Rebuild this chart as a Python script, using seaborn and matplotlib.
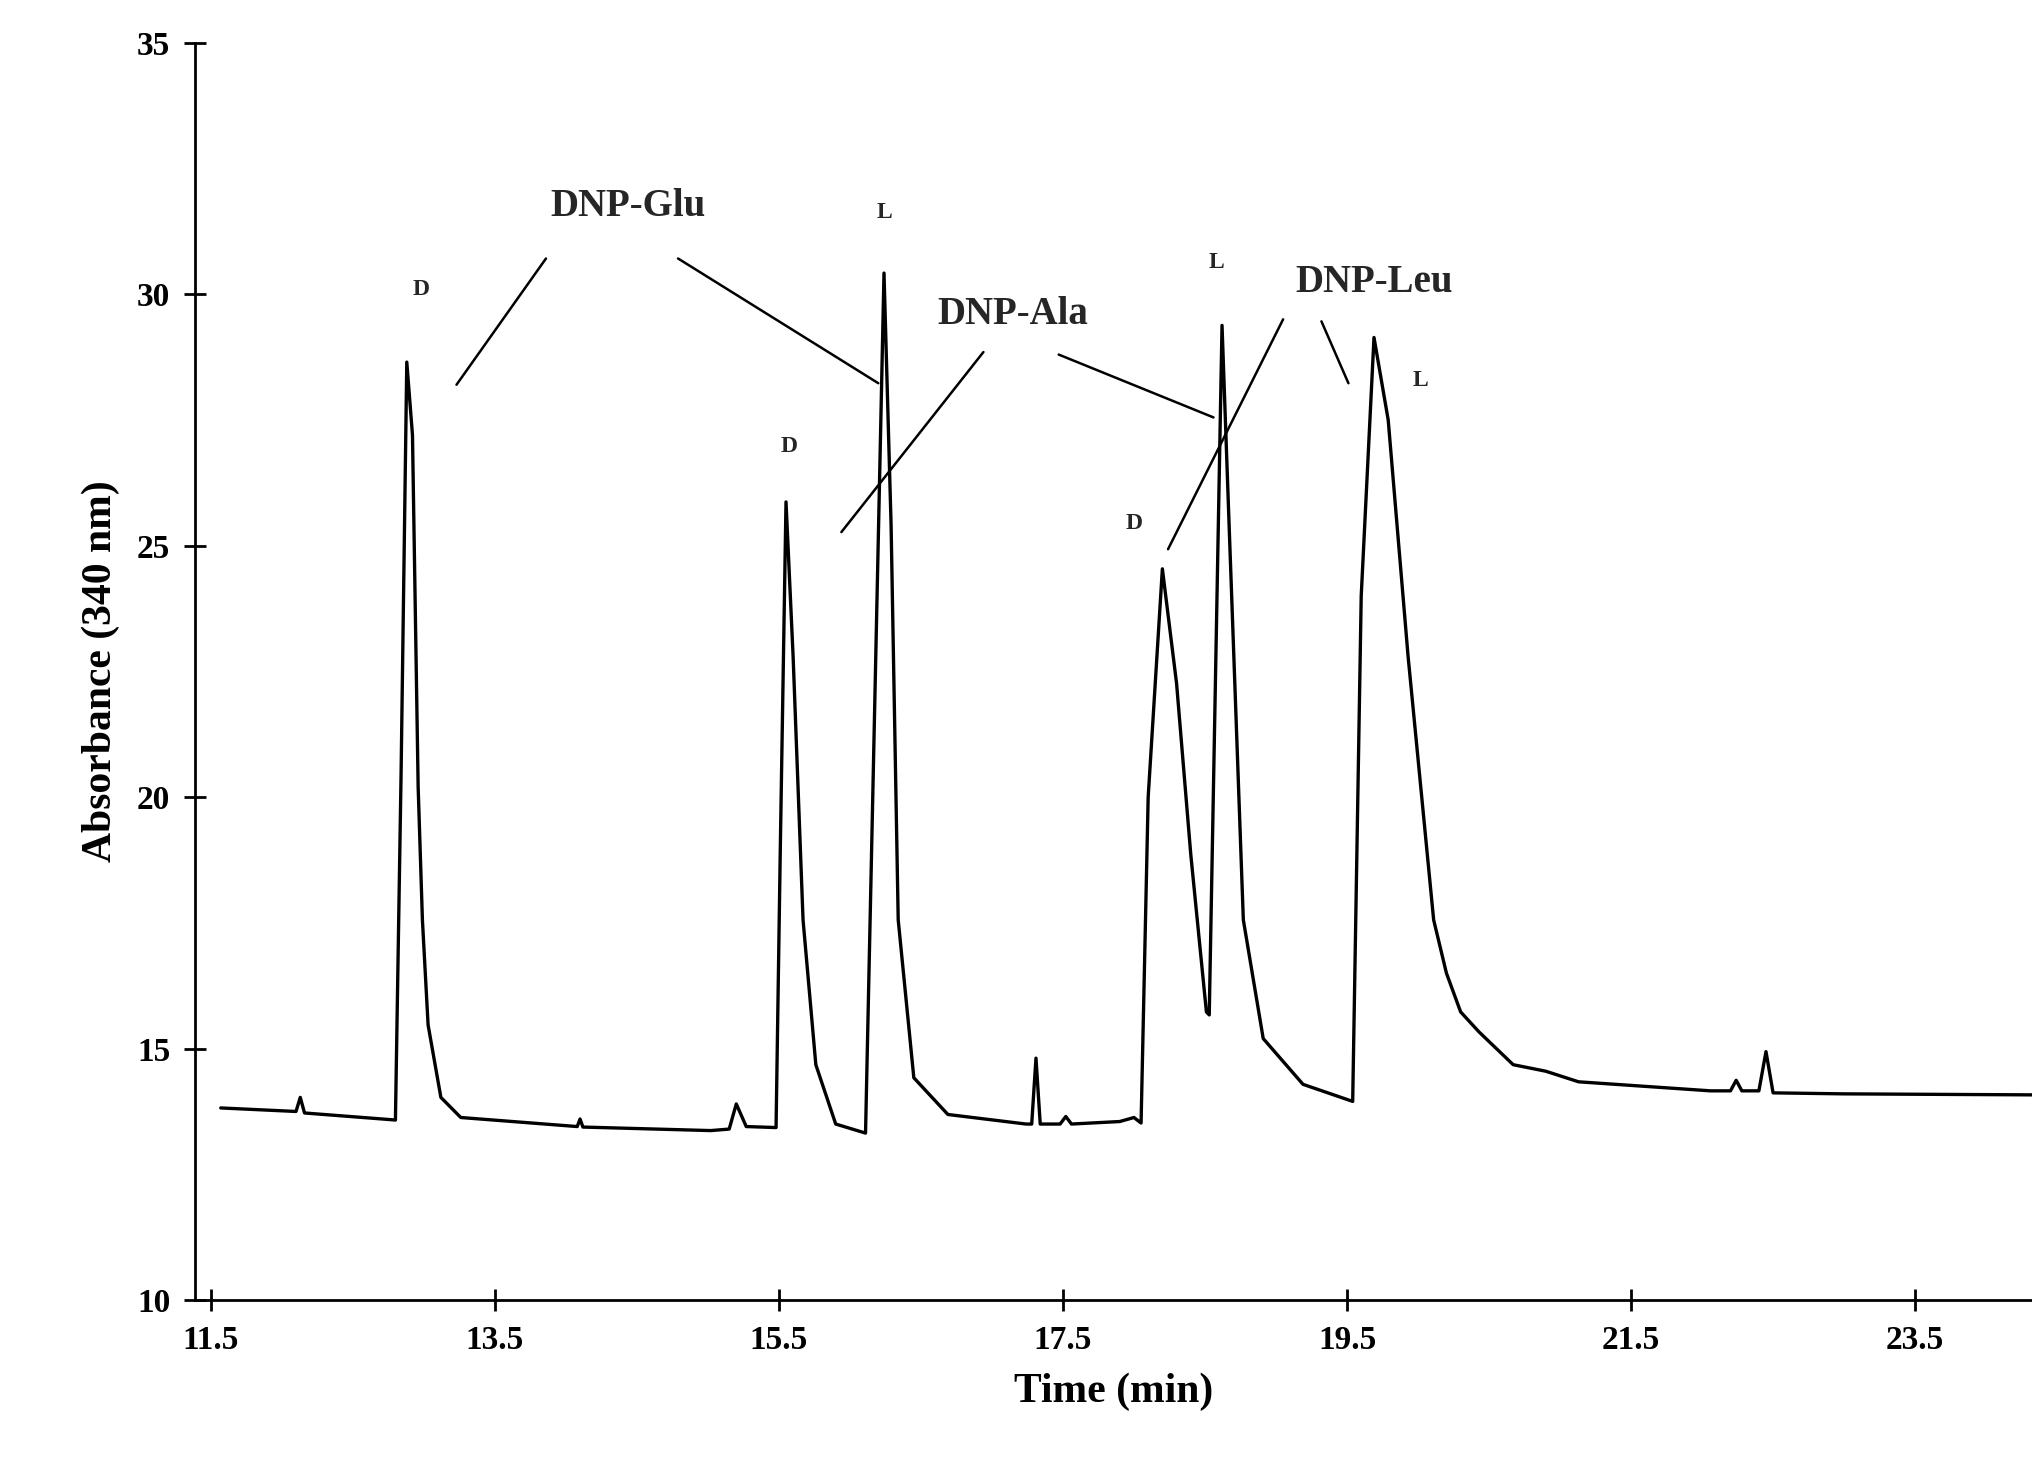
import matplotlib
matplotlib.use("Agg")
import matplotlib.pyplot as plt
import seaborn as sns
import pandas as pd

sns.set_theme(style="white")
plt.rcParams['font.family'] = ['Liberation Serif', 'DejaVu Serif']
plt.rcParams['font.weight'] = 'bold'

time = [11.57, 12.10, 12.13, 12.16, 12.80, 12.84, 12.88, 12.92, 12.96, 12.99, 13.03, 13.12, 13.26, 14.08, 14.10, 14.12,
        15.02, 15.15, 15.20, 15.27, 15.48, 15.51, 15.55, 15.60, 15.67, 15.76, 15.90, 16.11, 16.24, 16.29, 16.34,
        16.45, 16.69, 17.24, 17.28, 17.31, 17.34, 17.48, 17.52, 17.56, 17.90, 18.00, 18.05, 18.10, 18.20, 18.30,
        18.40, 18.51, 18.53, 18.62, 18.67, 18.77, 18.91, 19.19, 19.54, 19.60, 19.69, 19.79, 19.93, 20.11, 20.20,
        20.30, 20.43, 20.67, 20.90, 21.13, 22.06, 22.20, 22.24, 22.28, 22.40, 22.45, 22.50, 23.00, 24.33]
absorb = [13.82, 13.75, 14.03, 13.72, 13.58, 20.50, 28.65, 27.20, 20.20, 17.56, 15.47, 14.03, 13.63, 13.45, 13.60, 13.44,
          13.37, 13.40, 13.90, 13.45, 13.43, 19.00, 25.87, 22.80, 17.56, 14.68, 13.50, 13.32, 30.42, 25.40, 17.56,
          14.42, 13.69, 13.50, 13.50, 14.81, 13.50, 13.50, 13.65, 13.50, 13.55, 13.63, 13.52, 20.00, 24.54, 22.26,
          18.86, 15.73, 15.67, 29.38, 25.40, 17.56, 15.20, 14.29, 13.95, 24.00, 29.14, 27.50, 22.80, 17.56, 16.50,
          15.73, 15.33, 14.68, 14.55, 14.34, 14.16, 14.16, 14.37, 14.16, 14.16, 14.94, 14.12, 14.10, 14.08]
df = pd.DataFrame({"Time (min)": time, "Absorbance (340 nm)": absorb})

compound_labels = ["DNP-Glu", "DNP-Ala", "DNP-Leu"]
compound_pos = [(14.44, 31.74), (17.15, 29.59), (19.69, 30.24)]
leader_lines = [((13.86, 30.71), (13.23, 28.2)), ((14.79, 30.71), (16.2, 28.23)),
                ((16.94, 28.85), (15.94, 25.27)), ((17.47, 28.8), (18.56, 27.55)),
                ((19.05, 29.5), (18.24, 24.93)), ((19.32, 29.46), (19.51, 28.23))]
peak_labels = ["D", "L", "D", "D", "L", "L"]
peak_pos = [(12.98, 30.1), (16.24, 31.63), (15.57, 26.97), (18.0, 25.45), (18.58, 30.63), (20.02, 28.28)]

fig = plt.figure(figsize=(20.33, 14.74), dpi=100)
ax = fig.add_axes([0.096, 0.118, 0.904, 0.853])
sns.lineplot(data=df, x="Time (min)", y="Absorbance (340 nm)", ax=ax, color="black", lw=2.4)

for lab, (x, y) in zip(compound_labels, compound_pos):
    ax.text(x, y, lab, ha="center", va="center", fontsize=28, fontweight="bold")
for (p0, p1) in leader_lines:
    ax.plot([p0[0], p1[0]], [p0[1], p1[1]], color="black", lw=1.8)
for lab, (x, y) in zip(peak_labels, peak_pos):
    ax.text(x, y, lab, ha="center", va="center", fontsize=17, fontweight="bold")

ax.set_xlim(11.39, 24.33)
ax.set_ylim(10, 35)
ax.set_xticks([11.5, 13.5, 15.5, 17.5, 19.5, 21.5, 23.5])
ax.set_yticks([10, 15, 20, 25, 30, 35])
ax.tick_params(bottom=True, left=True, direction="inout", length=16, width=2,
               color="black", labelsize=24, pad=10, labelcolor="black")
for t in ax.get_xticklabels() + ax.get_yticklabels():
    t.set_fontweight("bold")
ax.set_xlabel("Time (min)", fontsize=30, fontweight="bold", labelpad=12, color="black")
ax.set_ylabel("Absorbance (340 nm)", fontsize=30, fontweight="bold", labelpad=12, color="black")
for s in ["top", "right"]:
    ax.spines[s].set_visible(False)
for s in ["left", "bottom"]:
    ax.spines[s].set_color("black")
    ax.spines[s].set_linewidth(2)
fig.savefig("out.png", dpi=100)
